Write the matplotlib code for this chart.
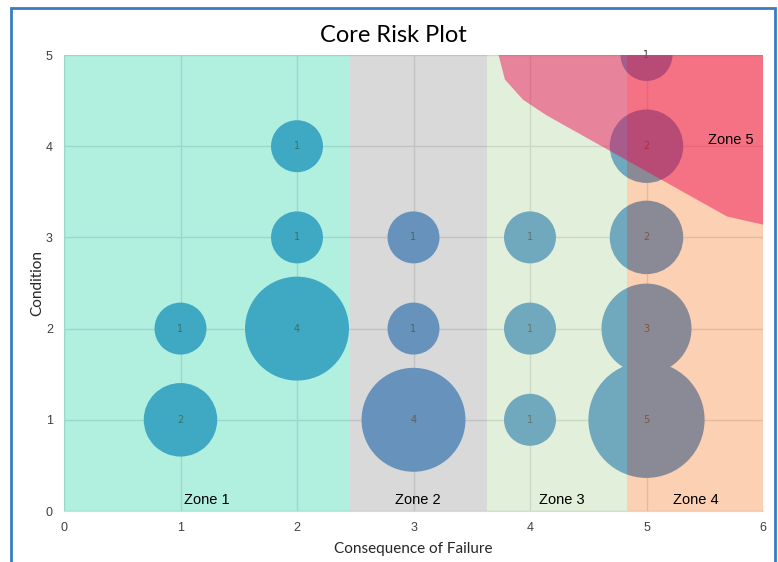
import matplotlib
matplotlib.use("Agg")
import matplotlib.pyplot as plt
from matplotlib.patches import Rectangle, Polygon

# bubble data: consequence (x), condition (y), number of assets
cof = [1, 1, 2, 2, 2, 3, 3, 3, 4, 4, 4, 5, 5, 5, 5, 5]
condition = [2, 1, 4, 3, 2, 3, 2, 1, 3, 2, 1, 5, 4, 3, 2, 1]
counts = [1, 2, 1, 1, 4, 1, 1, 4, 1, 1, 1, 1, 2, 2, 3, 5]

# zone bands along the x axis
zone_names = ["Zone 1", "Zone 2", "Zone 3", "Zone 4"]
zone_edges = [0, 2.455, 3.63, 4.83, 6.0]
zone_colors = ["#3ED7B1", "#A0A0A0", "#B7D7A3", "#F88A3F"]
zone_label_x = [1.23, 3.04, 4.27, 5.42]

# zone 5 outline (upper right corner)
zone5_x = [3.73, 3.785, 3.94, 4.14, 5.69, 6.0, 6.0]
zone5_y = [5.0, 4.73, 4.51, 4.34, 3.23, 3.14, 5.0]

W, H = 778, 562
fig = plt.figure(figsize=(W / 100, H / 100), dpi=100)
fig.patch.set_facecolor("white")
ax = fig.add_axes([64 / W, 1 - 511 / H, (763 - 64) / W, (511 - 55) / H])

# grid first, bubbles over it, then the translucent zones on top
ax.set_axisbelow(True)
ax.grid(True, color="#D9D9D9", linewidth=1, zorder=0)

ax.scatter(cof, condition, s=[1400 * c for c in counts], color="#4189D0",
           edgecolors="none", zorder=2)
for x, y, c in zip(cof, condition, counts):
    ax.text(x, y, str(c), ha="center", va="center", fontsize=7,
            color="#333333", zorder=3, family="DejaVu Sans")

for i, name in enumerate(zone_names):
    ax.add_patch(Rectangle((zone_edges[i], 0), zone_edges[i + 1] - zone_edges[i], 5,
                           facecolor=zone_colors[i], alpha=0.4, edgecolor="none", zorder=4))
    ax.text(zone_label_x[i], 0.12, name, ha="center", va="center", fontsize=10.5,
            family="Liberation Sans", color="black", zorder=6)

ax.add_patch(Polygon(list(zip(zone5_x, zone5_y)), closed=True, facecolor="#EE004D",
                     alpha=0.45, edgecolor="none", zorder=5))
ax.text(5.72, 4.07, "Zone 5", ha="center", va="center", fontsize=10.5,
        family="Liberation Sans", color="black", zorder=6)

ax.set_xlim(0, 6)
ax.set_ylim(0, 5)
ax.set_xticks(range(0, 7))
ax.set_yticks(range(0, 6))
ax.tick_params(length=0, labelsize=9, colors="#404040", pad=8)
for lab in ax.get_xticklabels() + ax.get_yticklabels():
    lab.set_family("Liberation Sans")
for s in ["top", "right"]:
    ax.spines[s].set_visible(False)
for s in ["left", "bottom"]:
    ax.spines[s].set_color("#D9D9D9")

ax.set_xlabel("Consequence of Failure", family="Lato", fontsize=11, color="#262626", labelpad=6)
ax.set_ylabel("Condition", family="Lato", fontsize=11, color="#262626", labelpad=1)
fig.text(0.506, 1 - 35 / H, "Core Risk Plot", ha="center", va="center",
         family="Lato", fontsize=17, color="black")

# blue chart border
fig.patches.append(Rectangle((11 / W, -0.02), (775 - 11) / W, 1 - 8 / H + 0.02,
                             transform=fig.transFigure, fill=False,
                             edgecolor="#3B7BC4", linewidth=2))

fig.savefig("out.png", dpi=100)
